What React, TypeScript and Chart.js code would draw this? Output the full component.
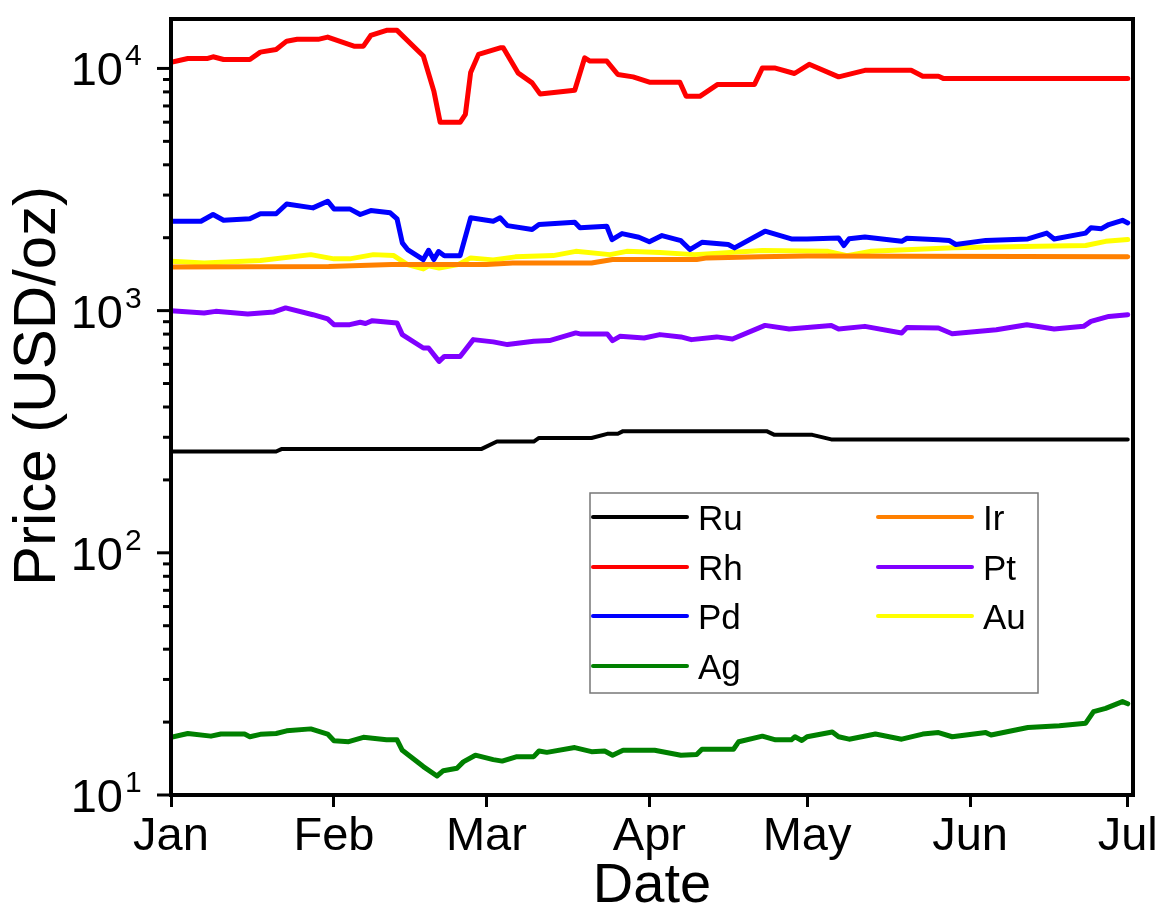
import { useEffect, useRef } from 'react';
import { Chart, registerables } from 'chart.js';

Chart.register(...registerables);

// ---- axis data ----
const monthStarts = [0, 31, 60, 91, 121, 152, 182];
const monthLabels = ['Jan', 'Feb', 'Mar', 'Apr', 'May', 'Jun', 'Jul'];
const yDecades = [10, 100, 1000, 10000];
const yExponents = ['1', '2', '3', '4'];
const yMin = 10;
const yMax = 16000;
const xMax = 183;

// ---- series (day of 2020, price USD/oz) ----
const metalNames = ['Ru', 'Rh', 'Pd', 'Ag', 'Ir', 'Pt', 'Au'];
const metalColors = ['#000000', '#ff0000', '#0000ff', '#008000', '#ff8000', '#8000ff', '#ffff00'];

const ruDays = [0, 20, 21, 59, 62, 69, 70, 80, 83, 85, 86, 113.3, 114.8, 122, 125.6, 182];
const ruPrices = [262, 262, 268, 268, 288, 288, 298, 298, 310, 310, 318, 318, 307, 307, 294, 294];

const rhDays = [0, 3.2, 7, 8, 10, 15, 17, 20, 22, 24, 28, 29.8, 34.8, 36.6, 38, 41, 43, 48, 50, 51.2, 55, 56, 57, 58.5, 62.6, 63.2, 66, 68.7, 70.2, 76.8, 78.7, 79.7, 82.9, 85, 87.9, 91, 96.8, 98, 100.6, 104, 111, 112.5, 114.8, 118.6, 121.4, 127, 132, 140.8, 143, 146, 147, 182];
const rhPrices = [10590, 10990, 11000, 11170, 10890, 10890, 11680, 11970, 12960, 13190, 13190, 13470, 12360, 12360, 13680, 14360, 14360, 11250, 8060, 5990, 5990, 6460, 9620, 11430, 12170, 12170, 9590, 8720, 7850, 8130, 11060, 10720, 10720, 9440, 9230, 8770, 8770, 7670, 7670, 8590, 8590, 10050, 10050, 9530, 10400, 9230, 9820, 9820, 9280, 9280, 9080, 9080];

const pdDays = [0, 5.7, 8, 10, 15, 17, 20, 22, 27, 29.8, 31, 34, 36, 38, 41.7, 43, 44, 45, 48, 49, 50, 50.9, 52, 55, 57, 61.3, 62.6, 64, 68.7, 70, 76.8, 77.8, 82.9, 83.9, 85.8, 89, 91, 93.4, 97, 98.7, 101, 106, 107.2, 113, 118, 121, 127, 128, 129, 132, 139, 140, 146, 148, 149.3, 155, 163, 166.6, 168, 174, 175, 177, 178.4, 181, 182];
const pdPrices = [2339, 2339, 2494, 2361, 2393, 2511, 2511, 2755, 2656, 2830, 2630, 2630, 2494, 2588, 2535, 2393, 1905, 1787, 1625, 1775, 1625, 1754, 1686, 1686, 2416, 2339, 2416, 2244, 2163, 2267, 2317, 2197, 2230, 1965, 2080, 2010, 1925, 2041, 1945, 1787, 1914, 1875, 1816, 2128, 1977, 1977, 1995, 1857, 1980, 2014, 1932, 1990, 1960, 1950, 1875, 1950, 1977, 2090, 1977, 2090, 2197, 2180, 2267, 2361, 2301];

const agDays = [0, 3.2, 7.6, 9.5, 14, 15, 17, 20, 22, 26.6, 29.8, 31, 33.8, 36.6, 41, 43, 44, 48, 50.6, 51.8, 54.4, 55.6, 57.9, 61.3, 63, 65.8, 69, 70, 71.5, 76.8, 80, 82.5, 84, 86, 92, 97, 100, 101, 107, 108, 112.5, 115, 118, 118.7, 120, 121, 125.8, 127, 129, 134, 139, 143, 146, 148.6, 155, 156, 163, 169, 174, 175.5, 177.8, 181, 182];
const agPrices = [17.3, 17.95, 17.5, 17.85, 17.85, 17.4, 17.8, 17.95, 18.4, 18.75, 17.85, 16.75, 16.6, 17.3, 16.9, 16.9, 15.3, 13.1, 11.98, 12.6, 12.9, 13.7, 14.6, 14.0, 13.8, 14.4, 14.4, 15.2, 15.0, 15.7, 15.1, 15.2, 14.6, 15.3, 15.3, 14.6, 14.7, 15.45, 15.45, 16.6, 17.5, 16.9, 16.9, 17.4, 16.8, 17.4, 18.2, 17.4, 17.0, 17.85, 17.0, 17.85, 18.1, 17.4, 18.1, 17.7, 19.0, 19.3, 19.8, 22.1, 22.8, 24.3, 23.8];

const irDays = [0, 30, 42, 60, 65, 80, 84, 100, 102, 112, 121, 182];
const irPrices = [1514, 1521, 1549, 1549, 1574, 1574, 1625, 1625, 1651, 1667, 1680, 1670];

const ptDays = [0, 6.3, 8.5, 14.6, 19.6, 21.8, 27, 29.8, 31, 34, 36, 37, 38.3, 43, 44, 48, 49, 51, 52, 55, 57.5, 61.3, 64, 69, 72, 77, 78, 83, 84, 85.4, 90, 93, 97, 99, 103.8, 106.8, 113, 117.6, 125.6, 127, 132, 139, 140, 146, 148.6, 157, 162.8, 168, 173.6, 175, 178.4, 182];
const ptPrices = [1000, 978, 993, 968, 988, 1026, 962, 924, 875, 875, 895, 885, 909, 889, 796, 701, 701, 617, 647, 647, 759, 743, 724, 747, 752, 809, 800, 801, 752, 783, 771, 796, 779, 759, 779, 764, 869, 840, 869, 840, 861, 809, 851, 848, 803, 834, 875, 840, 861, 903, 946, 962];

const auDays = [0, 6.3, 17, 26.6, 31, 34, 38.5, 42.3, 45, 48, 49, 51, 54.6, 57, 61.3, 65.5, 72.7, 77, 83.5, 86.7, 93, 99.6, 112.5, 125, 128.6, 133, 149, 165, 174, 177.8, 182];
const auPrices = [1600, 1574, 1610, 1703, 1636, 1636, 1703, 1690, 1549, 1486, 1530, 1500, 1549, 1651, 1620, 1667, 1687, 1757, 1703, 1757, 1738, 1703, 1773, 1757, 1687, 1757, 1816, 1845, 1857, 1932, 1965];

const seriesDays = [ruDays, rhDays, pdDays, agDays, irDays, ptDays, auDays];
const seriesPrices = [ruPrices, rhPrices, pdPrices, agPrices, irPrices, ptPrices, auPrices];

const FONT = '"Liberation Sans", Arial, sans-serif';

const decorPlugin = {
  id: 'decor',
  afterDraw(chart: any) {
    const { ctx, chartArea: a, scales } = chart;
    const y = scales.y;
    ctx.save();
    // frame
    ctx.strokeStyle = '#000';
    ctx.lineWidth = 4;
    ctx.strokeRect(a.left, a.top, a.right - a.left, a.bottom - a.top);

    // y ticks (major + minor)
    ctx.lineWidth = 3;
    for (const dec of yDecades) {
      for (let k = 1; k <= 9; k++) {
        const v = k * dec;
        if (v > y.max) break;
        const py = y.getPixelForValue(v);
        const len = k === 1 ? 14 : 8;
        ctx.beginPath();
        ctx.moveTo(a.left - len, py);
        ctx.lineTo(a.left, py);
        ctx.stroke();
      }
    }
    // y labels 10^n
    ctx.fillStyle = '#000';
    yDecades.forEach((dec, i) => {
      const py = y.getPixelForValue(dec);
      ctx.font = `47px ${FONT}`;
      ctx.textAlign = 'right';
      ctx.textBaseline = 'alphabetic';
      ctx.fillText('10', a.left - 48, py + 17);
      ctx.font = `30px ${FONT}`;
      ctx.textAlign = 'left';
      ctx.fillText(yExponents[i], a.left - 46, py - 3);
    });

    // axis titles
    ctx.font = `56px ${FONT}`;
    ctx.textAlign = 'center';
    ctx.textBaseline = 'alphabetic';
    ctx.fillText('Date', (a.left + a.right) / 2, a.bottom + 107);
    ctx.save();
    ctx.font = `60px ${FONT}`;
    ctx.translate(55, 386);
    ctx.rotate(-Math.PI / 2);
    ctx.fillText('Price (USD/oz)', 0, 0);
    ctx.restore();

    // legend (two columns, column-major)
    const boxL = 590, boxT = 493, boxW = 448, boxH = 200;
    ctx.fillStyle = '#fff';
    ctx.fillRect(boxL, boxT, boxW, boxH);
    ctx.strokeStyle = '#777';
    ctx.lineWidth = 1.5;
    ctx.strokeRect(boxL, boxT, boxW, boxH);
    const rowY = [517, 567, 616, 666];
    const colLine = [[593, 687], [878, 972]];
    const colText = [698, 983];
    ctx.font = `35px ${FONT}`;
    ctx.textAlign = 'left';
    ctx.lineCap = 'round';
    chart.data.datasets.forEach((ds: any, i: number) => {
      const col = i < 4 ? 0 : 1;
      const row = i < 4 ? i : i - 4;
      const ly = rowY[row];
      ctx.strokeStyle = ds.borderColor;
      ctx.lineWidth = 4;
      ctx.beginPath();
      ctx.moveTo(colLine[col][0], ly);
      ctx.lineTo(colLine[col][1], ly);
      ctx.stroke();
      ctx.fillStyle = '#000';
      ctx.fillText(ds.label, colText[col], ly + 12.5);
    });
    ctx.restore();
  },
};

export default function App() {
  const ref = useRef<HTMLCanvasElement>(null);
  useEffect(() => {
    const datasets = metalNames.map((name, i) => ({
      label: name,
      data: seriesDays[i].map((d, j) => ({ x: d, y: seriesPrices[i][j] })),
      borderColor: metalColors[i],
      backgroundColor: metalColors[i],
      borderWidth: i === 0 ? 4 : 5,
      pointRadius: 0,
      tension: 0,
      borderJoinStyle: 'round' as const,
      borderCapStyle: 'round' as const,
      fill: false,
    }));
    const chart = new Chart(ref.current!, {
      type: 'line',
      data: { datasets },
      options: {
        animation: false,
        responsive: false,
        events: [],
        layout: { padding: { top: 19, right: 33, left: 0, bottom: 0 } },
        plugins: { legend: { display: false }, tooltip: { enabled: false } },
        scales: {
          x: {
            type: 'linear',
            min: 0,
            max: xMax,
            afterBuildTicks: (scale: any) => {
              scale.ticks = monthStarts.map((v) => ({ value: v }));
            },
            afterFit: (scale: any) => {
              scale.height = 125;
            },
            ticks: {
              autoSkip: false,
              maxRotation: 0,
              padding: 2,
              color: '#000',
              font: { family: FONT, size: 47 },
              callback: (value: any) => monthLabels[monthStarts.indexOf(Number(value))],
            },
            grid: {
              display: true,
              drawOnChartArea: false,
              drawTicks: true,
              tickLength: 12,
              lineWidth: 3,
              color: '#000',
            },
            border: { display: false },
          },
          y: {
            type: 'logarithmic',
            min: yMin,
            max: yMax,
            afterFit: (scale: any) => {
              scale.width = 171;
            },
            ticks: { display: false },
            grid: { display: false },
            border: { display: false },
          },
        },
      },
      plugins: [decorPlugin],
    });
    return () => chart.destroy();
  }, []);
  return (
    <div style={{ position: 'fixed', left: 0, top: 0, width: 1166, height: 920, background: '#fff' }}>
      <canvas ref={ref} width={1166} height={920} />
    </div>
  );
}
